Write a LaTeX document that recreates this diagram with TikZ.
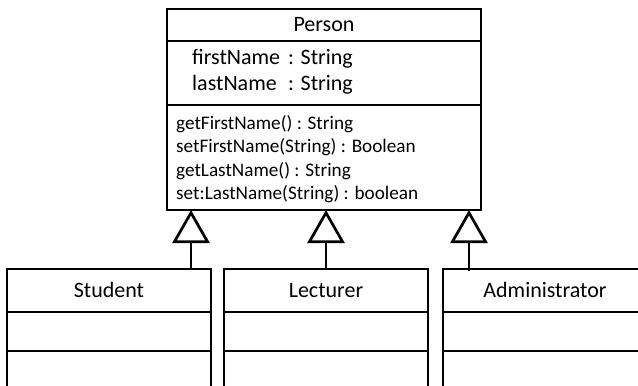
\documentclass[tikz,border=0pt]{standalone}
\usepackage{fontspec}
\setmainfont{Carlito}
\usetikzlibrary{arrows.meta}

\begin{document}
\begin{tikzpicture}[x=1pt, y=-1pt,
  part/.style={draw, line width=2.7pt, anchor=north west, inner sep=0pt, outer sep=0pt, minimum width=#1},
  part/.default=314pt,
  classname/.style={anchor=base, inner sep=0pt, font=\fontsize{22}{26}\selectfont},
  attr/.style={anchor=base west, inner sep=0pt, font=\fontsize{22}{26}\selectfont},
  meth/.style={anchor=base west, inner sep=0pt, font=\fontsize{19.2}{23}\selectfont},
  gen/.style={line width=2.7pt, -{Triangle[open, width=37pt, length=33pt, line width=2.7pt]}}]

\useasboundingbox (0,0) rectangle (638,386);
\clip (0,0) rectangle (638,386);

% superclass Person
\node[part, minimum height=32pt] (ptitle) at (167,9) {};
\node[part, minimum height=64pt] (pattr) at (167,41) {};
\node[part, minimum height=105pt] (pmeth) at (167,105) {};
\node[classname] (pname) at (324,31) {Person};
\node[attr] (pa1) at (192,64) {\makebox[96pt][l]{firstName}: String};
\node[attr] (pa2) at (192,90) {\makebox[96pt][l]{lastName}: String};
\node[meth] (pm1) at (176,129) {getFirstName() : String};
\node[meth] (pm2) at (176,152) {setFirstName(String) : Boolean};
\node[meth] (pm3) at (176,176) {getLastName() : String};
\node[meth] (pm4) at (176,199) {set:LastName(String) : boolean};

% subclasses
\foreach \id/\x/\label in {stu/7/Student, lec/224/Lecturer, adm/443/Administrator}{
  \node[part=204pt, minimum height=43pt] (\id title) at (\x,269) {};
  \node[part=204pt, minimum height=39pt] (\id attr) at (\x,312) {};
  \node[part=204pt, minimum height=80pt] (\id meth) at (\x,351) {};
  \node[classname] (\id name) at (\x+102,297) {\label};
}

% generalisation arrows
\coordinate (stutop) at (191,269);
\coordinate (lectop) at (326,269);
\coordinate (admtop) at (469,271);
\draw[gen] (stutop) -- (stutop |- pmeth.south);
\draw[gen] (lectop) -- (lectop |- pmeth.south);
\draw[gen] (admtop) -- (admtop |- pmeth.south);
\end{tikzpicture}
\end{document}
